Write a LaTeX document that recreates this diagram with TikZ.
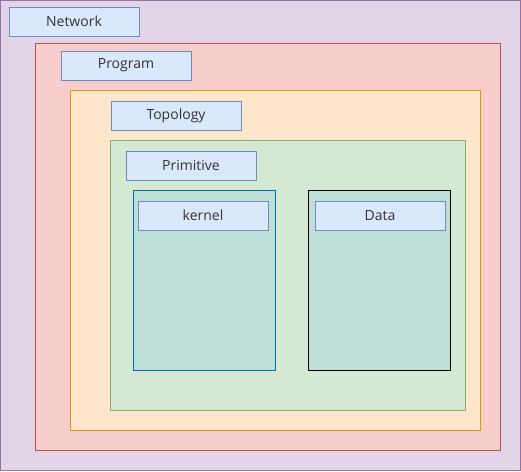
\documentclass[tikz,border=0pt]{standalone}
\usepackage{fontspec}
\setmainfont{Open Sans}
\definecolor{netfill}{HTML}{E1D5E7}
\definecolor{netline}{HTML}{9673A6}
\definecolor{progfill}{HTML}{F8CECC}
\definecolor{progline}{HTML}{B85450}
\definecolor{topofill}{HTML}{FFE6CC}
\definecolor{topoline}{HTML}{D79B00}
\definecolor{primfill}{HTML}{D5E8D4}
\definecolor{primline}{HTML}{82B366}
\definecolor{partfill}{HTML}{BEDFD8}
\definecolor{kernline}{HTML}{006EAF}
\definecolor{tagfill}{HTML}{DAE8FC}
\definecolor{tagline}{HTML}{6C8EBF}
\tikzset{
  tag/.style={draw=tagline, fill=tagfill, line width=1pt, minimum width=130pt,
    minimum height=29pt, inner sep=0pt, anchor=north west, font=\fontsize{14}{16}\selectfont,
    text=black!80}
}
\begin{document}
\begin{tikzpicture}[x=1pt,y=-1pt]
\useasboundingbox (0,0) rectangle (521,471);

\begin{scope}[line width=1pt]
\filldraw [fill=netfill, draw=netline] (0.5,0.5) rectangle (520.5,470.5);
\filldraw [fill=progfill, draw=progline] (35.5,43.5) rectangle (500.5,450.5);
\filldraw [fill=topofill, draw=topoline] (70.5,90.5) rectangle (480.5,430.5);
\filldraw [fill=primfill, draw=primline] (110.5,140.5) rectangle (465.5,410.5);
\filldraw [fill=partfill, draw=kernline] (133.5,190.5) rectangle (275.5,370.5);
\filldraw [fill=partfill, draw=black] (308.5,190.5) rectangle (450.5,370.5);
\end{scope}

\node [tag] (network) at (8.5,6.5) {Network};
\node [tag] (program) at (60.5,50.5) {Program};
\node [tag] (topology) at (110.5,100.5) {Topology};
\node [tag] (primitive) at (125.5,150.5) {Primitive};
\node [tag] (kernel) at (137.5,200.5) {kernel};
\node [tag] (data) at (314.5,200.5) {Data};
\end{tikzpicture}
\end{document}
